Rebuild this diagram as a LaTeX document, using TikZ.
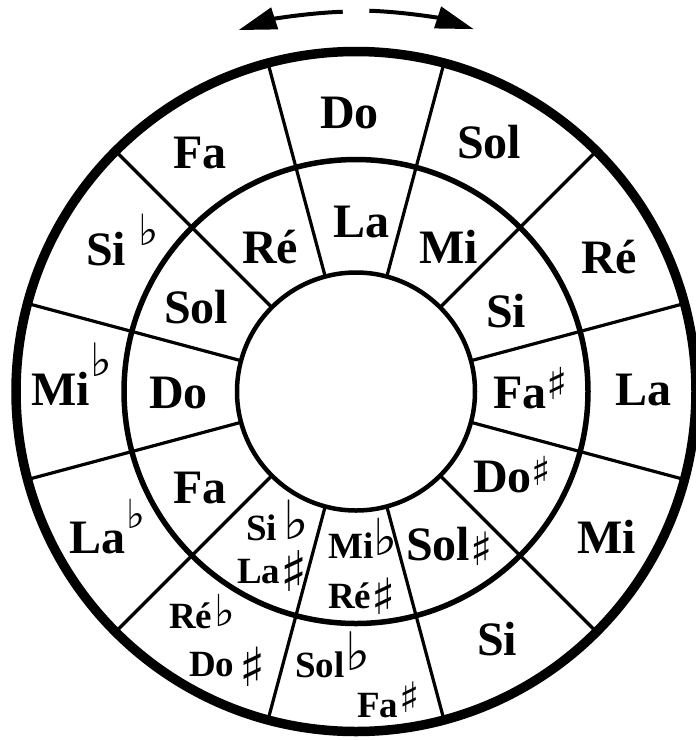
\documentclass[tikz,border=0pt]{standalone}
\usepackage{fontspec}
\setmainfont{Liberation Serif}
\newfontfamily\musfont{DejaVu Sans}
\usetikzlibrary{arrows.meta,calc}
% accidental: #1 glyph, #2 size, #3 raise
\newcommand\acc[3]{\raisebox{#3}{\musfont\fontsize{#2}{#2}\selectfont #1}}
\begin{document}
\begin{tikzpicture}[x=1pt,y=-1pt,
  big/.style={font=\fontsize{48}{48}\selectfont\bfseries, inner sep=0pt, anchor=base west},
  small/.style={font=\fontsize{37}{37}\selectfont\bfseries, inner sep=0pt, anchor=base west},
  outerring/.style={line width=9.5pt},
  midring/.style={line width=5.5pt},
  innerring/.style={line width=4.5pt},
  divider/.style={line width=3.2pt},
  turn/.style={line width=4pt, -{Triangle[length=38pt,width=22pt]}}]
\useasboundingbox (0,0) rectangle (696,740);
\clip (0,0) rectangle (696,740);
\coordinate (c) at (356,391.5);
% rings
\draw[outerring] (c) circle[radius=340];
\draw[midring] (c) circle[radius=232];
\draw[innerring] (c) circle[radius=119];
% dividers
\foreach \a in {15,45,...,345}
  \draw[divider] ($(c)+(\a:119)$) -- ($(c)+(\a:340)$);
% arrows
\coordinate (la) at ($(c)+(-92:380)$);
\coordinate (ra) at ($(c)+(-88:381)$);
\draw[turn] (la) arc[start angle=-92, end angle=-108, radius=380];
\draw[turn] (ra) arc[start angle=-88, end angle=-72, radius=381];
% outer ring labels
\node[big] (oDo) at (320,128) {Do};
\node[big] (oSol) at (457,158) {Sol};
\node[big] (oRe) at (581,273) {Ré};
\node[big] (oLa) at (615,405) {La};
\node[big] (oMi) at (577,553) {Mi};
\node[big] (oSi) at (477,655) {Si};
\node[small] (oSolb) at (295,677) {Sol\hspace{1pt}\acc{♭}{53}{6.5pt}};
\node[small] (oFas) at (357,717) {Fa\hspace{1pt}\acc{♯}{42}{5pt}};
\node[small] (oReb) at (169,628) {Ré\hspace{2pt}\acc{♭}{44}{2pt}};
\node[small] (oDos) at (189,676) {Do\hspace{5pt}\acc{♯}{54}{-10pt}};
\node[big] (oLab) at (69,553) {La\hspace{1pt}\acc{♭}{40}{25pt}};
\node[big] (oMib) at (31,405) {Mi\hspace{1pt}\acc{♭}{46}{29pt}};
\node[big] (oSib) at (86,265) {Si\hspace{12pt}\acc{♭}{43}{20pt}};
\node[big] (oFa) at (173,168) {Fa};
% middle ring labels
\node[big] (mLa) at (333,237) {La};
\node[big] (mMi) at (419,263) {Mi};
\node[big] (mSi) at (486,327) {Si};
\node[big] (mFas) at (493,408) {Fa\acc{♯}{44}{9pt}};
\node[big] (mDos) at (473,492) {Do\acc{♯}{40}{7pt}};
\node[big] (mSols) at (406,560) {Sol\acc{♯}{46}{-5pt}};
\node[small] (mMib) at (328,558) {Mi\acc{♭}{51}{2.5pt}};
\node[small] (mRes) at (328,608) {Ré\acc{♯}{50}{-6.5pt}};
\node[small] (mSib) at (246,540) {Si\hspace{6pt}\acc{♭}{54}{1pt}};
\node[small] (mLas) at (237,583) {La\acc{♯}{56}{-8pt}};
\node[big] (mFa) at (173,503) {Fa};
\node[big] (mDo) at (149,408) {Do};
\node[big] (mSol) at (164,323) {Sol};
\node[big] (mRe) at (242,263) {Ré};
\end{tikzpicture}
\end{document}
